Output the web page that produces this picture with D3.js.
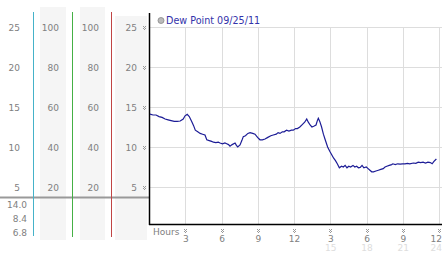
<!DOCTYPE html>
<html>
<head>
<meta charset="utf-8">
<script src="https://cdn.jsdelivr.net/npm/d3@7"></script>
<style>
  body { margin: 0; background: #fff; }
  svg { display: block; font-family: "DejaVu Sans", Verdana, sans-serif; }
</style>
</head>
<body>
<svg width="442" height="253"></svg>
<script>
// readings, hours since midnight / dew point
const hours = [0.00,0.25,0.50,0.75,1.00,1.25,1.50,1.75,2.00,2.25,2.50,2.75,2.90,3.08,3.25,3.45,3.60,3.75,3.95,4.15,
  4.35,4.55,4.70,4.90,5.10,5.25,5.45,5.65,5.80,6.00,6.20,6.35,6.50,6.62,6.80,7.04,7.15,7.26,7.45,7.60,
  7.72,7.90,8.10,8.28,8.50,8.69,8.90,9.10,9.30,9.52,9.75,10.00,10.20,10.45,10.60,10.76,10.95,11.10,11.30,11.50,
  11.70,11.86,12.05,12.20,12.40,12.60,12.80,12.97,13.10,13.25,13.40,13.55,13.74,13.85,13.93,14.05,14.20,14.35,14.50,14.70,
  14.90,15.05,15.20,15.35,15.50,15.67,15.85,16.00,16.15,16.30,16.45,16.60,16.80,16.95,17.10,17.25,17.40,17.55,17.70,17.90,
  18.05,18.20,18.35,18.50,18.70,18.90,19.10,19.30,19.45,19.60,19.80,20.00,20.10,20.30,20.50,20.70,20.90,21.10,21.30,21.50,
  21.80,22.00,22.20,22.40,22.60,22.80,23.00,23.20,23.35,23.50,23.70];
const dewPoint = [14.1,14.0,14.0,13.8,13.7,13.5,13.4,13.3,13.2,13.2,13.25,13.5,13.9,14.1,13.8,13.2,12.7,12.1,11.9,11.7,
  11.6,11.5,10.9,10.8,10.7,10.6,10.55,10.6,10.5,10.4,10.5,10.4,10.3,10.1,10.3,10.5,10.2,10.0,10.25,10.8,
  11.3,11.4,11.7,11.8,11.7,11.6,11.2,10.9,10.9,11.0,11.2,11.4,11.5,11.6,11.8,11.7,11.9,11.9,12.1,12.0,
  12.1,12.1,12.3,12.3,12.5,12.8,13.1,13.5,13.1,12.75,12.5,12.6,12.75,13.3,13.6,13.2,12.5,11.6,10.9,10.0,
  9.4,9.0,8.6,8.3,7.9,7.4,7.6,7.5,7.7,7.4,7.6,7.5,7.7,7.5,7.6,7.4,7.45,7.7,7.4,7.5,
  7.3,7.1,6.9,6.9,7.0,7.1,7.2,7.3,7.5,7.6,7.7,7.8,7.9,7.8,7.9,7.85,7.9,7.9,7.95,7.9,
  8.0,7.95,8.1,8.05,8.1,8.0,8.1,8.05,7.9,8.2,8.5];

const tempTicks = [5, 10, 15, 20, 25];
const pctTicks = [20, 40, 60, 80, 100];
const hourTicks = [3, 6, 9, 12, 15, 18, 21, 24];
const hourLabels = ["3", "6", "9", "12", "3", "6", "9", "12"];
const hour24Labels = ["", "", "", "", "15", "18", "21", "24"];
const stats = ["14.0", "8.4", "6.8"];
const legendText = "Dew Point 09/25/11";

const svg = d3.select("svg");
const x = d3.scaleLinear().domain([0, 24]).range([150, 440]);
const y = d3.scaleLinear().domain([0, 25]).range([227, 27]);
const yPct = d3.scaleLinear().domain([0, 100]).range([227, 27]);

// grey column backgrounds
[[40, 7, 26], [80, 7, 25], [115, 16, 32]].forEach(([bx, by, bw]) => {
  svg.append("rect").attr("x", bx).attr("y", by).attr("width", bw).attr("height", 240 - by).attr("fill", "#f5f5f5");
});

function colLabels(ticks, scale, xr) {
  svg.append("g").selectAll("text").data(ticks).enter().append("text")
    .attr("x", xr).attr("y", d => scale(d) + 3.5)
    .attr("text-anchor", "end").attr("font-size", 9).attr("fill", "#808080")
    .text(d => d);
}
colLabels(tempTicks, y, 20);
colLabels(pctTicks, yPct, 59);
colLabels(pctTicks, yPct, 99);
colLabels(tempTicks, y, 137);

svg.append("line").attr("x1", 0).attr("x2", 149).attr("y1", 197.5).attr("y2", 197.5)
  .attr("stroke", "#999").attr("stroke-width", 2);

[[33.5, "#45b2c9", 236], [72.5, "#45b045", 237], [111.5, "#c04545", 237]].forEach(([lx, c, yb]) => {
  svg.append("line").attr("x1", lx).attr("x2", lx).attr("y1", 12).attr("y2", yb)
    .attr("stroke", c).attr("stroke-width", 1);
});

svg.append("g").selectAll("text").data(stats).enter().append("text")
  .attr("x", 27).attr("y", (d, i) => 207.5 + i * 14.3)
  .attr("text-anchor", "end").attr("font-size", 9).attr("fill", "#808080")
  .text(d => d);

// plot area
svg.append("rect").attr("x", 150).attr("y", 13).attr("width", 292).attr("height", 211).attr("fill", "#fff");

const grid = svg.append("g").attr("stroke", "#ddd").attr("stroke-width", 1);
grid.selectAll(".h").data(tempTicks).enter().append("line")
  .attr("x1", 150).attr("x2", 442).attr("y1", d => Math.round(y(d)) + 0.5).attr("y2", d => Math.round(y(d)) + 0.5);
grid.selectAll(".v").data(hourTicks).enter().append("line")
  .attr("x1", d => Math.round(x(d)) - 0.5).attr("x2", d => Math.round(x(d)) - 0.5)
  .attr("y1", 27).attr("y2", 224);

// small dotted tick marks
function tickMark(g, cx, cy) {
  [[0, 0], [2, 0], [1, 1], [0, 2], [2, 2], [1, 3]].forEach(([dx, dy]) => {
    g.append("rect").attr("x", cx + dx).attr("y", cy + dy).attr("width", 1).attr("height", 1).attr("fill", "#999");
  });
}
const marks = svg.append("g");
tempTicks.forEach(d => tickMark(marks, 143, Math.round(y(d)) - 1));
hourTicks.forEach(d => tickMark(marks, Math.round(x(d)) - 2, 229));

svg.append("g").selectAll("text").data(hourLabels).enter().append("text")
  .attr("x", (d, i) => i === hourLabels.length - 1 ? 442 : x(hourTicks[i]) - 0.5).attr("y", 242)
  .attr("text-anchor", (d, i) => i === hourLabels.length - 1 ? "end" : "middle")
  .attr("font-size", 9).attr("fill", "#808080")
  .text(d => d);
svg.append("g").selectAll("text").data(hour24Labels).enter().append("text")
  .attr("x", (d, i) => i === hour24Labels.length - 1 ? 442 : x(hourTicks[i]) - 0.5).attr("y", 250.5)
  .attr("text-anchor", (d, i) => i === hour24Labels.length - 1 ? "end" : "middle")
  .attr("font-size", 9).attr("fill", "#ddd")
  .text(d => d);
svg.append("text").attr("x", 153).attr("y", 235).attr("font-size", 9).attr("fill", "#808080").text("Hours");

// axes
svg.append("line").attr("x1", 149.5).attr("x2", 149.5).attr("y1", 13).attr("y2", 225)
  .attr("stroke", "#000").attr("stroke-width", 1.5);
svg.append("line").attr("x1", 149).attr("x2", 442).attr("y1", 224.5).attr("y2", 224.5)
  .attr("stroke", "#000").attr("stroke-width", 1.5);

const line = d3.line().x((d, i) => x(hours[i])).y(d => y(d));
svg.append("path").datum(dewPoint).attr("d", line)
  .attr("fill", "none").attr("stroke", "#1c1c96").attr("stroke-width", 1.2);

// legend
svg.append("circle").attr("cx", 161).attr("cy", 20.5).attr("r", 3)
  .attr("fill", "#bbb").attr("stroke", "#888").attr("stroke-width", 0.8);
svg.append("text").attr("x", 166).attr("y", 24).attr("font-size", 9.6).attr("fill", "#3333aa").text(legendText);
</script>
</body>
</html>
